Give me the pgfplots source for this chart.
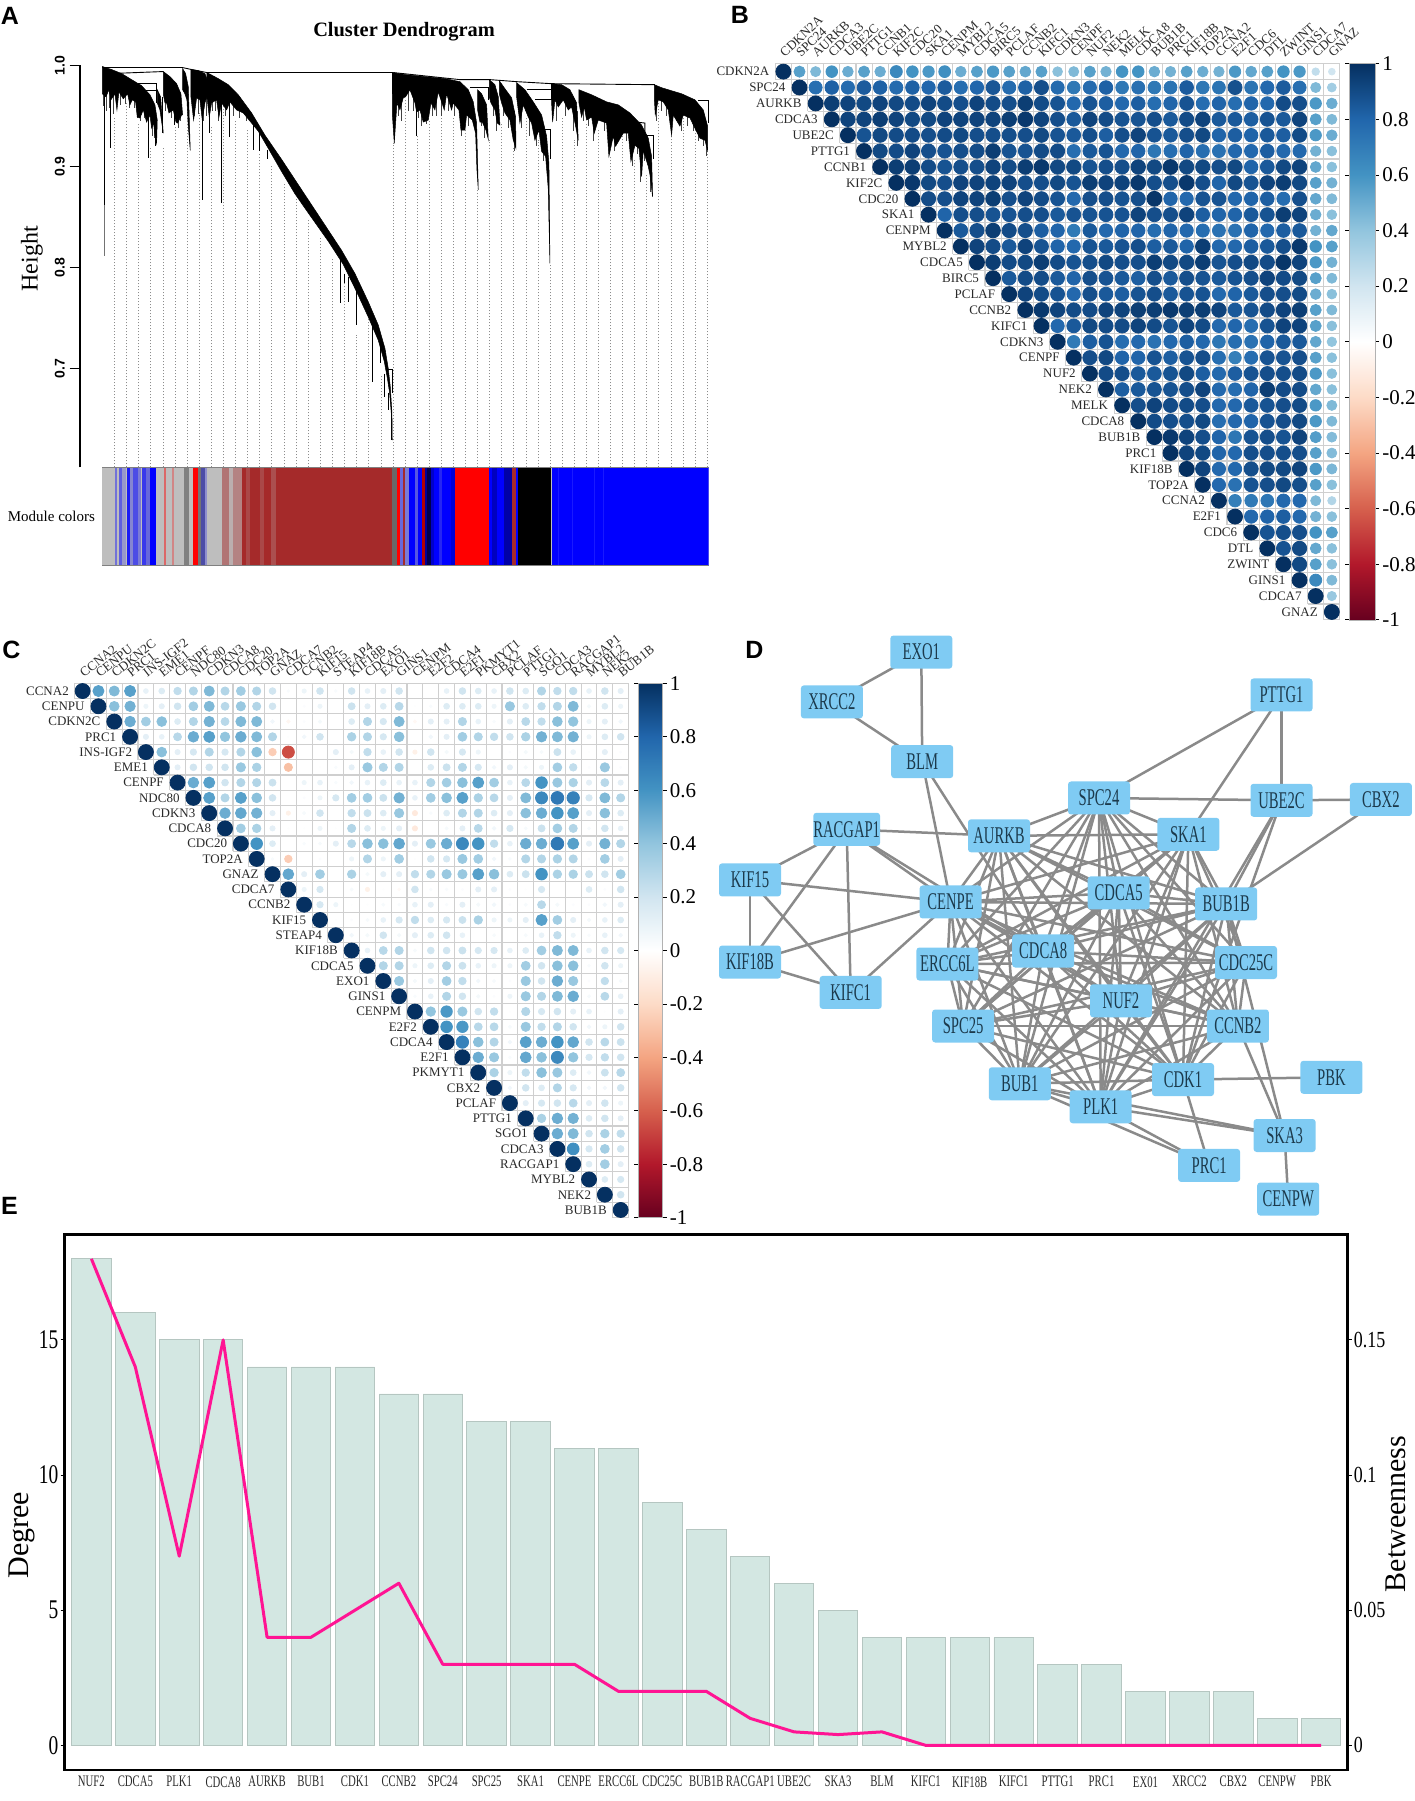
\documentclass[border=0pt]{standalone}
\usepackage{fontspec}
\setmainfont{Liberation Serif}
\newfontfamily\hv{Liberation Sans}
\usepackage{pgfplots}
\pgfplotsset{compat=1.18}
\newcommand\fs[1]{\fontsize{#1}{#1}\selectfont}
\definecolor{gr}{HTML}{BEBEBE}
\definecolor{br}{HTML}{A52A2A}
\definecolor{bl}{HTML}{0000FF}
\definecolor{rd}{HTML}{FF0000}
\definecolor{nodec}{HTML}{7FCBF3}
\definecolor{nodet}{HTML}{1C3A4C}
\definecolor{barf}{HTML}{D3E7E2}
\definecolor{bare}{HTML}{B5C6C1}
\definecolor{linep}{HTML}{FF1493}
\definecolor{gridc}{HTML}{CFCFCF}
\definecolor{labc}{HTML}{2A2A2A}
\definecolor{edgec}{HTML}{8A8A8A}
\pgfplotsset{colormap={rdbu}{rgb255=(103,0,31) rgb255=(178,24,43) rgb255=(214,96,77) rgb255=(244,165,130) rgb255=(253,219,199) rgb255=(255,255,255) rgb255=(209,229,240) rgb255=(146,197,222) rgb255=(67,147,195) rgb255=(33,102,172) rgb255=(5,48,97)}}
% --- dendrogram helpers
\newcommand\Poly[1]{\addplot[black,fill=black,line width=.25pt] coordinates {#1} --cycle;}
\newcommand\Sp[3]{\addplot[black,line width=.5pt] coordinates {(#1,#2)(#1,#3)};}
\newcommand\Fr[3]{\addplot[black!75,line width=.45pt] coordinates {(#1,#2)(#1,#3)};}
\newcommand\Ln[1]{\addplot[black,line width=.45pt] coordinates {#1};}
\newcommand\Bd[3]{\addplot[fill=#1,draw=none] coordinates {(#2,0)(#3.6,0)(#3.6,1)(#2,1)} --cycle;}
% --- correlation matrix helpers
\newcount\mcc
\newcommand\mrow[3]{%
 \global\mcc=#1\relax
 \xdef\mpts{(#1,#1)[1]}%
 \if\relax\detokenize{#3}\relax\else
 \foreach \v in {#3}{\global\advance\mcc by 1 \xdef\mpts{\mpts(\the\mcc,#1)[\v]}}%
 \fi
 \edef\tmp{\noexpand\addplot[dots] coordinates {\mpts};}\tmp
 \node[rowlab] at (axis cs:#1-.85,#1) {#2};
 \node[collab] at (axis cs:#1+.1,.15) {#2};
}
\newcommand\mgrid{%
 \addplot[gridl] coordinates {(.5,.5)(35.5,.5)};
 \addplot[gridl] coordinates {(35.5,.5)(35.5,35.5)};
 \pgfplotsforeachungrouped \i in {1,...,35}{%
  \pgfmathsetmacro\a{\i-.5}\pgfmathsetmacro\b{\i+.5}%
  \edef\tmp{\noexpand\addplot[gridl] coordinates {(\a,\b)(35.5,\b)};\noexpand\addplot[gridl] coordinates {(\a,.5)(\a,\b)};}\tmp
 }%
}
\pgfplotsset{
 dots/.style={only marks,scatter,mark=*,point meta=explicit,
  scatter/use mapped color={draw=mapped color,fill=mapped color},
  scatter/@pre marker code/.append code={\pgfmathsetmacro\pms{3.75*sqrt(abs(\pgfplotspointmetatransformed-500)/500)}\tikzset{mark size=\pms pt}}},
 gridl/.style={gridc,line width=.55pt},
 corr/.style={scale only axis,anchor=south west,hide axis,clip=false,y dir=reverse,
  xmin=.5,xmax=35.5,ymin=.5,ymax=35.5,colormap name=rdbu,point meta min=-1,point meta max=1,colorbar},
 cb/.style={at={(parent axis.north east)},anchor=north west,ytick={-1,-.8,...,1},
  yticklabel pos=right,tick align=outside,major tick length=2pt,tick style={black,line width=.4pt},
  axis line style={draw=gray!60,line width=.3pt},
  yticklabel style={font=\fs{10.5},inner sep=1.5pt,/pgf/number format/.cd,fixed,precision=1,assume math mode=true}},
}
\tikzset{rowlab/.style={anchor=east,inner sep=0pt,font=\fs{6.5},text=labc},
 collab/.style={anchor=south west,inner sep=0pt,rotate=43,font=\fs{6.5},text=labc},
 plet/.style={font=\hv\bfseries\fs{12.5}}}
% --- network helpers
\newcommand\Nd[3]{\expandafter\gdef\csname P#1\endcsname{#2,#3}}
\newcommand\Ed[2]{\edef\tmp{\noexpand\addplot[edgec,line width=1.25pt] coordinates {(\csname P#1\endcsname)(\csname P#2\endcsname)};}\tmp}
\newcommand\Bx[1]{\edef\tmp{\noexpand\node[fill=nodec,rounded corners=1.5pt,minimum width=31pt,minimum height=16.5pt,inner sep=0pt,text=nodet,font=\noexpand\fs{12}] at (axis cs:\csname P#1\endcsname) {\noexpand\scalebox{.61}[1]{#1}};}\tmp}
\newcommand\nn[1]{\scalebox{.67}[1]{#1}}
\newcommand\sxl[1]{\scalebox{.72}[1]{#1}}
\newcommand\sxr[1]{\scalebox{.78}[1]{#1}}
\Nd{EXO1}{921.3}{652.1}\Nd{XRCC2}{831.9}{701.9}\Nd{BLM}{922.2}{761.6}\Nd{PTTG1}{1281.5}{695}
\Nd{SPC24}{1099}{798}\Nd{UBE2C}{1281.5}{800.3}\Nd{CBX2}{1380.9}{799.5}\Nd{RACGAP1}{846.7}{829.3}
\Nd{AURKB}{999}{835.8}\Nd{SKA1}{1188.4}{834.3}\Nd{KIF15}{750}{879.9}\Nd{CENPE}{950.6}{902}
\Nd{CDCA5}{1118.7}{892.9}\Nd{BUB1B}{1226.2}{904}\Nd{KIF18B}{750}{962.1}\Nd{ERCC6L}{947.4}{964}
\Nd{CDCA8}{1043.2}{951}\Nd{CDC25C}{1246}{962.5}\Nd{KIFC1}{850.7}{992.4}\Nd{NUF2}{1121}{1000.8}
\Nd{SPC25}{963.1}{1026}\Nd{CCNB2}{1237.9}{1026}\Nd{BUB1}{1019.8}{1083.8}\Nd{CDK1}{1183}{1079.6}
\Nd{PBK}{1331.4}{1077.3}\Nd{PLK1}{1100.7}{1106.8}\Nd{SKA3}{1284.6}{1135.5}\Nd{PRC1}{1209.1}{1165.4}
\Nd{CENPW}{1288.2}{1199}
\begin{document}
\begin{tikzpicture}
\useasboundingbox (0,0) rectangle (707.5pt,900.5pt);
% ===================== A
\begin{axis}[at={(39.8pt,666.85pt)},anchor=south west,scale only axis,width=314.5pt,height=200.9pt,
 xmin=-46,xmax=1841,ymin=.6022,ymax=1,axis x line=none,axis y line=left,axis line style={-,line width=1pt},
 ytick={.7,.8,.9,1},yticklabels={0.7,0.8,0.9,1.0},tick align=outside,major tick length=5pt,tick style={black,line width=.8pt},
 yticklabel style={rotate=90,anchor=south,font=\hv\bfseries\fs{7},inner sep=2.2pt},clip=false]
\addplot[ycomb,color=black!45,dash pattern=on .7pt off .8pt,line width=.4pt,mark=none] coordinates {
 (58,.949)(94,.963)(130,.943)(167,.920)(204,.920)(240,.940)(277,.966)(313,.953)(349,.940)(385,.963)(421,.946)(458,.936)(494,.913)(530,.900)(567,.883)(603,.869)(640,.848)(676,.829)(712,.809)(749,.786)(785,.733)(821,.755)(858,.694)(894,.923)
 (930,.966)(966,.930)(1002,.946)(1039,.956)(1075,.949)(1111,.936)(1148,.877)(1184,.926)(1220,.943)(1256,.918)(1293,.949)(1329,.926)(1365,.804)(1401,.949)(1438,.926)(1474,.943)(1510,.936)(1546,.910)(1583,.936)(1619,.907)(1655,.893)(1691,.963)(1728,.931)(1764,.956)(1800,.946)(1837,.916)};
% fringe of short branches
\Fr{26}{.985}{.960}\Fr{36}{.985}{.955}\Fr{44}{.985}{.958}\Fr{56}{.98}{.952}\Fr{76}{.98}{.961}\Fr{92}{.98}{.962}\Fr{104}{.975}{.958}\Fr{118}{.97}{.958}\Fr{128}{.97}{.948}\Fr{138}{.965}{.945}\Fr{150}{.96}{.948}\Fr{172}{.95}{.930}\Fr{178}{.95}{.928}
\Fr{212}{.975}{.955}\Fr{230}{.975}{.948}\Fr{250}{.965}{.938}\Fr{256}{.96}{.945}
\Fr{300}{.98}{.950}\Fr{312}{.98}{.952}\Fr{326}{.98}{.945}\Fr{335}{.98}{.950}\Fr{352}{.97}{.955}\Fr{362}{.97}{.955}\Fr{372}{.97}{.945}\Fr{392}{.97}{.950}\Fr{415}{.965}{.950}\Fr{435}{.955}{.948}\Fr{455}{.955}{.945}
\Fr{900}{.975}{.940}\Fr{912}{.975}{.950}\Fr{920}{.975}{.945}\Fr{940}{.98}{.955}\Fr{955}{.98}{.955}\Fr{970}{.975}{.948}\Fr{980}{.975}{.940}\Fr{995}{.975}{.942}\Fr{1012}{.975}{.950}\Fr{1025}{.98}{.950}\Fr{1040}{.98}{.950}\Fr{1060}{.98}{.955}\Fr{1080}{.975}{.950}\Fr{1100}{.97}{.930}\Fr{1122}{.96}{.940}
\Fr{1160}{.965}{.940}\Fr{1170}{.955}{.928}\Fr{1195}{.975}{.950}\Fr{1205}{.965}{.935}\Fr{1225}{.97}{.950}\Fr{1240}{.965}{.938}\Fr{1258}{.955}{.915}
\Fr{1280}{.97}{.938}\Fr{1305}{.96}{.930}\Fr{1325}{.95}{.920}\Fr{1345}{.94}{.905}
\Fr{1385}{.975}{.945}\Fr{1412}{.97}{.950}\Fr{1436}{.965}{.935}\Fr{1447}{.955}{.920}
\Fr{1465}{.965}{.945}\Fr{1480}{.965}{.940}\Fr{1495}{.96}{.925}\Fr{1505}{.96}{.945}\Fr{1530}{.955}{.935}\Fr{1548}{.95}{.925}\Fr{1560}{.95}{.915}\Fr{1578}{.945}{.928}\Fr{1595}{.945}{.925}\Fr{1612}{.94}{.900}\Fr{1628}{.93}{.912}\Fr{1637}{.93}{.885}\Fr{1650}{.925}{.905}\Fr{1668}{.90}{.875}
\Fr{1685}{.97}{.945}\Fr{1700}{.97}{.955}\Fr{1715}{.965}{.950}\Fr{1745}{.965}{.945}\Fr{1760}{.965}{.935}\Fr{1778}{.96}{.940}\Fr{1795}{.955}{.935}\Fr{1810}{.95}{.925}\Fr{1825}{.945}{.920}\Fr{1836}{.93}{.910}
% left clusters
\Poly{(22,.999)(50,.996)(80,.992)(110,.986)(140,.980)(165,.971)(180,.961)(187,.946)(185,.923)(180,.931)(176,.943)(170,.938)(165,.951)(155,.944)(145,.956)(135,.948)(127,.949)(122,.964)(112,.966)(105,.961)(98,.972)(85,.967)(72,.974)(66,.956)(60,.972)(48,.966)(42,.976)(33,.969)(22,.972)}
\Poly{(187,.976)(197,.969)(205,.933)(195,.956)(187,.963)}
\Poly{(205,.994)(225,.989)(245,.982)(258,.972)(263,.951)(260,.951)(248,.943)(243,.944)(235,.956)(222,.953)(215,.963)(210,.963)(205,.972)}
\Poly{(263,.997)(272,.992)(280,.979)(286,.916)(280,.940)(276,.966)(270,.972)(263,.976)}
\Poly{(288,.996)(310,.995)(330,.992)(337,.986)(336,.969)(330,.963)(322,.946)(315,.966)(305,.968)(296,.946)(288,.969)}
% long arm
\Poly{(336,.993)(370,.987)(400,.981)(430,.971)(470,.953)(510,.931)(560,.907)(600,.887)(640,.867)(700,.837)(740,.817)(780,.794)(820,.766)(850,.743)(870,.720)(880,.700)(886,.682)(891,.656)(892,.629)(889,.656)(884,.676)(878,.689)(868,.707)(850,.728)(820,.751)(785,.776)(745,.803)(700,.826)(640,.854)(600,.873)(560,.895)(520,.918)(490,.935)(470,.943)(445,.953)(425,.956)(405,.964)(395,.956)(380,.963)(372,.949)(365,.966)(350,.963)(343,.949)(336,.969)}
% right clusters
\Poly{(892,.993)(930,.991)(990,.989)(1050,.987)(1095,.984)(1120,.976)(1135,.964)(1145,.943)(1150,.877)(1146,.897)(1142,.933)(1132,.946)(1115,.951)(1110,.936)(1098,.936)(1092,.956)(1075,.963)(1070,.956)(1055,.972)(1048,.956)(1030,.974)(1020,.956)(1008,.963)(1000,.946)(985,.944)(975,.956)(965,.954)(960,.963)(945,.976)(932,.969)(925,.968)(915,.956)(906,.963)(898,.923)(892,.953)}
\Poly{(1148,.976)(1160,.972)(1175,.961)(1180,.927)(1173,.936)(1162,.944)(1155,.944)(1148,.956)}
\Poly{(1183,.986)(1200,.981)(1210,.969)(1215,.941)(1207,.943)(1200,.956)(1188,.963)(1183,.969)}
\Poly{(1213,.985)(1230,.977)(1250,.968)(1262,.949)(1263,.918)(1255,.926)(1245,.946)(1230,.953)(1220,.963)(1213,.972)}
\Poly{(1265,.983)(1290,.976)(1315,.964)(1340,.951)(1355,.930)(1362,.903)(1365,.804)(1360,.878)(1352,.910)(1340,.915)(1332,.936)(1320,.926)(1310,.943)(1300,.949)(1285,.961)(1275,.943)(1265,.969)}
\Poly{(1370,.982)(1400,.981)(1425,.976)(1445,.963)(1450,.926)(1442,.940)(1430,.959)(1420,.956)(1405,.966)(1390,.959)(1380,.966)(1373,.944)(1370,.963)}
\Poly{(1452,.976)(1490,.971)(1535,.964)(1570,.961)(1605,.953)(1640,.941)(1660,.928)(1670,.910)(1673,.870)(1665,.892)(1660,.900)(1645,.916)(1640,.890)(1632,.918)(1620,.921)(1608,.905)(1600,.933)(1585,.933)(1562,.920)(1555,.930)(1542,.910)(1535,.943)(1510,.946)(1498,.933)(1490,.949)(1475,.946)(1468,.959)(1460,.949)(1452,.963)}
\Poly{(1678,.981)(1700,.978)(1730,.975)(1760,.972)(1800,.966)(1825,.956)(1838,.940)(1838,.916)(1830,.926)(1815,.928)(1800,.938)(1785,.948)(1765,.951)(1755,.940)(1735,.951)(1730,.931)(1720,.956)(1705,.964)(1690,.966)(1681,.951)(1678,.969)}
% spikes
\Sp{30}{.990}{.862}
\addplot[black!55,line width=.5pt] coordinates {(30,.862)(30,.811)};
\Sp{47}{.976}{.918}\Sp{161}{.963}{.908}\Sp{183}{.946}{.920}\Sp{204}{.969}{.933}\Sp{240}{.960}{.941}
\Sp{323}{.959}{.867}\Sp{345}{.966}{.933}\Sp{381}{.963}{.864}\Sp{404}{.966}{.929}\Sp{477}{.943}{.916}\Sp{493}{.936}{.915}\Sp{518}{.916}{.907}
\Sp{737}{.807}{.765}\Sp{750}{.794}{.785}\Sp{760}{.791}{.766}\Sp{785}{.778}{.743}\Sp{833}{.745}{.687}\Sp{857}{.722}{.705}\Sp{870}{.695}{.672}\Sp{882}{.676}{.659}\Sp{890}{.662}{.629}\Sp{965}{.956}{.930}
% merges
\Ln{(22,.998)(262,.998)(290,.996)(336,.993)}
\Ln{(45,.992)(205,.994)}
\Ln{(130,.982)(185,.982)(185,.963)}
\Ln{(150,.975)(185,.975)}
\addplot[black,line width=.7pt] coordinates {(336,.993)(620,.993)};
\Ln{(620,.993)(893,.993)(893,.972)}
\Ln{(880,.699)(892,.699)(892,.676)}
\Ln{(895,.993)(1095,.986)(1185,.986)(1265,.984)(1370,.982)(1680,.981)}
\Ln{(1125,.978)(1180,.978)(1180,.966)}
\Ln{(1295,.976)(1370,.976)}
\Ln{(1320,.966)(1370,.966)}
\Ln{(1370,.982)(1370,.966)}
\Ln{(1350,.937)(1367,.937)(1367,.907)}
\Ln{(1625,.944)(1650,.943)(1650,.920)}
\Ln{(1655,.931)(1675,.931)(1675,.907)}
\Ln{(1810,.965)(1840,.965)(1840,.943)}
\end{axis}
% strip
\begin{axis}[at={(51pt,617.5pt)},anchor=south west,scale only axis,width=303.3pt,height=49.35pt,
 xmin=18,xmax=1552,ymin=0,ymax=1,hide axis,clip=true]
\Bd{gr}{18}{1552}
\Bd{bl!40!gr}{52}{55}\Bd{bl!50!gr}{60}{67}\Bd{bl!20!gr}{68}{79}\Bd{bl!85!gr}{80}{89}\Bd{bl!30!gr}{90}{96}\Bd{bl!60!gr}{97}{109}\Bd{bl!35!gr}{110}{117}\Bd{bl!70!gr}{118}{129}\Bd{bl!45!gr}{130}{139}\Bd{bl}{140}{154}
\Bd{rd!45!gr}{175}{179}\Bd{rd!30!gr}{195}{199}\Bd{black!50}{225}{237}\Bd{rd}{248}{260}\Bd{black!55}{261}{267}\Bd{blue!50!black!70}{268}{277}\Bd{bl!25!gr}{278}{284}
\Bd{br!50!gr}{322}{339}\Bd{br!10!gr}{340}{349}\Bd{br!40!gr}{350}{371}\Bd{br}{372}{381}\Bd{br!80!gr}{382}{391}\Bd{br}{392}{417}\Bd{br!80!gr}{418}{427}\Bd{br}{428}{444}\Bd{br!75!gr}{445}{457}\Bd{br}{458}{751}
\Bd{black!45!gr}{752}{764}\Bd{rd}{765}{771}\Bd{bl!45!gr}{772}{779}\Bd{br}{780}{784}\Bd{bl!35!gr}{785}{794}\Bd{bl}{795}{809}\Bd{bl!55!gr}{810}{817}\Bd{bl}{818}{827}\Bd{rd!70!black}{828}{834}\Bd{bl!60!black}{835}{839}\Bd{bl!30!black}{840}{849}\Bd{bl!80!black}{850}{857}\Bd{bl}{858}{869}\Bd{bl!80!gr}{870}{877}\Bd{bl}{878}{899}\Bd{bl!85!black}{900}{909}
\Bd{rd}{910}{996}\Bd{bl}{997}{1004}\Bd{bl!75!black}{1005}{1017}\Bd{bl}{1018}{1034}\Bd{bl!65!black}{1035}{1054}\Bd{br}{1055}{1064}\Bd{bl}{1065}{1069}\Bd{black}{1070}{1154}\Bd{bl}{1155}{1552}
\Bd{bl!90!white}{1170}{1171}\Bd{bl!90!white}{1207}{1208}\Bd{bl!90!white}{1263}{1264}\Bd{bl!90!white}{1285}{1286}
\addplot[gray,line width=.5pt] coordinates {(18,1)(1552,1)};
\addplot[gray,line width=1.2pt] coordinates {(18,0)(1552,0)};
\end{axis}
\node[font=\bfseries\fs{10.2}] at (202pt,{(1801-31.4)*.5pt}) {Cluster Dendrogram};
\node[rotate=90,font=\fs{12}] at (15.9pt,{(1801-259)*.5pt}) {Height};
\node[font=\fs{7.5}] at (25.7pt,{(1801-516)*.5pt}) {Module colors};
\node[plet] at (5pt,{(1801-15.5)*.5pt}) {A};
\node[plet] at (370pt,{(1801-15)*.5pt}) {B};
\node[plet] at (5.75pt,{(1801-650)*.5pt}) {C};
\node[plet] at (377.25pt,{(1801-649.5)*.5pt}) {D};
\node[plet] at (4.75pt,{(1801-1206)*.5pt}) {E};
% ===================== B
\begin{axis}[corr,at={(387.65pt,590.55pt)},width=282.3pt,height=278.1pt,
 colorbar style={cb,xshift=-3.78pt,width=12.8pt,height=278.1pt}]
\mgrid
\mrow{1}{CDKN2A}{.55,.45,.60,.50,.55,.50,.65,.60,.58,.62,.50,.55,.58,.55,.52,.55,.42,.45,.55,.48,.60,.60,.50,.48,.55,.50,.48,.58,.52,.55,.60,.58,.25,.20}
\mrow{2}{SPC24}{.76,.82,.78,.84,.82,.78,.82,.80,.84,.77,.80,.86,.78,.82,.89,.78,.72,.78,.82,.72,.76,.72,.74,.84,.72,.74,.88,.74,.79,.84,.76,.45,.35}
\mrow{3}{AURKB}{.95,.93,.91,.93,.91,.90,.93,.90,.89,.93,.90,.89,.95,.90,.87,.79,.87,.83,.79,.83,.77,.81,.87,.77,.81,.77,.81,.79,.90,.89,.58,.50}
\mrow{4}{CDCA3}{.93,.93,.95,.93,.91,.91,.93,.93,.93,.93,.95,.97,.93,.89,.85,.93,.90,.87,.87,.89,.85,.90,.93,.85,.85,.83,.87,.85,.93,.55,.45}
\mrow{5}{UBE2C}{.87,.91,.90,.90,.89,.90,.91,.89,.89,.89,.89,.91,.87,.85,.89,.83,.89,.93,.87,.85,.89,.91,.81,.83,.81,.85,.83,.90,.58,.50}
\mrow{6}{PTTG1}{.91,.90,.93,.89,.87,.89,.90,.95,.87,.87,.90,.90,.77,.85,.87,.79,.81,.73,.77,.81,.77,.75,.79,.79,.83,.79,.79,.48,.42}
\mrow{7}{CCNB1}{.95,.95,.90,.87,.89,.89,.93,.90,.95,.97,.91,.91,.87,.89,.89,.93,.91,.97,.91,.91,.89,.91,.81,.85,.91,.93,.52,.42}
\mrow{8}{KIF2C}{.97,.91,.89,.93,.93,.93,.93,.89,.89,.91,.87,.95,.93,.93,.97,.89,.89,.97,.89,.81,.91,.87,.93,.95,.91,.55,.48}
\mrow{9}{CDC20}{.90,.89,.93,.93,.95,.89,.93,.90,.87,.79,.89,.89,.87,.89,.98,.81,.79,.87,.87,.79,.81,.83,.77,.89,.52,.45}
\mrow{10}{SKA1}{.81,.89,.89,.87,.87,.89,.89,.85,.87,.87,.87,.87,.93,.89,.89,.93,.83,.81,.81,.85,.87,.95,.93,.50,.42}
\mrow{11}{CENPM}{.85,.89,.95,.90,.89,.83,.81,.71,.85,.79,.81,.81,.77,.81,.79,.77,.75,.75,.81,.79,.83,.85,.48,.52}
\mrow{12}{MYBL2}{.93,.90,.85,.93,.87,.81,.79,.87,.85,.87,.89,.83,.85,.81,.95,.79,.79,.83,.85,.89,.97,.60,.55}
\mrow{13}{CDCA5}{.95,.90,.91,.95,.90,.87,.89,.91,.89,.89,.95,.91,.91,.95,.87,.89,.91,.90,.98,.93,.58,.48}
\mrow{14}{BIRC5}{.85,.90,.90,.85,.81,.89,.87,.85,.83,.89,.85,.89,.87,.85,.87,.89,.93,.90,.91,.55,.45}
\mrow{15}{PCLAF}{.93,.90,.87,.79,.89,.85,.83,.87,.89,.85,.87,.87,.79,.81,.85,.89,.89,.90,.50,.42}
\mrow{16}{CCNB2}{.97,.93,.90,.90,.93,.93,.95,.95,.97,.95,.95,.93,.85,.87,.90,.93,.95,.55,.45}
\mrow{17}{KIFC1}{.79,.85,.91,.90,.90,.93,.90,.87,.93,.90,.79,.80,.77,.87,.93,.93,.55,.42}
\mrow{18}{CDKN3}{.71,.83,.87,.77,.79,.75,.79,.83,.79,.73,.77,.75,.81,.85,.85,.52,.40}
\mrow{19}{CENPF}{.89,.91,.81,.81,.87,.83,.87,.89,.77,.69,.77,.87,.87,.89,.55,.42}
\mrow{20}{NUF2}{.90,.89,.85,.85,.87,.91,.83,.79,.83,.87,.89,.89,.90,.58,.42}
\mrow{21}{NEK2}{.83,.85,.87,.87,.89,.93,.79,.77,.81,.95,.90,.90,.52,.42}
\mrow{22}{MELK}{.89,.93,.90,.90,.89,.79,.79,.85,.87,.89,.90,.58,.45}
\mrow{23}{CDCA8}{.90,.89,.89,.91,.77,.79,.81,.87,.89,.91,.58,.45}
\mrow{24}{BUB1B}{.97,.93,.89,.81,.73,.87,.89,.87,.93,.56,.44}
\mrow{25}{PRC1}{.93,.91,.81,.79,.89,.89,.89,.89,.55,.44}
\mrow{26}{KIF18B}{.93,.79,.79,.89,.91,.91,.93,.58,.46}
\mrow{27}{TOP2A}{.79,.75,.87,.89,.91,.89,.55,.42}
\mrow{28}{CCNA2}{.69,.71,.73,.79,.79,.45,.30}
\mrow{29}{E2F1}{.79,.81,.83,.79,.48,.42}
\mrow{30}{CDC6}{.87,.89,.89,.60,.55}
\mrow{31}{DTL}{.87,.91,.52,.42}
\mrow{32}{ZWINT}{.91,.55,.42}
\mrow{33}{GINS1}{.65,.45}
\mrow{34}{CDCA7}{.38}
\mrow{35}{GNAZ}{}
\end{axis}
\tikzset{collab/.style={anchor=south west,inner sep=0pt,rotate=38,font=\fs{6.5},text=labc}}
% ===================== C
\begin{axis}[corr,at={(37.35pt,291.7pt)},width=276.95pt,height=267.1pt,
 colorbar style={cb,xshift=-3.73pt,width=12.15pt,height=267.1pt}]
\mgrid
\mrow{1}{CCNA2}{.55,.45,.55,.1,.15,.25,.3,.45,.3,.35,.3,.2,.03,.08,.2,.03,.2,.1,.12,.2,0,0,.1,.2,.15,.1,.2,.15,.3,.25,.25,.1,.2,.12}
\mrow{2}{CENPU}{.42,.48,.08,.12,.2,.35,.45,.28,.38,.3,.2,0,.02,.08,0,.22,.12,.15,.28,.01,.03,.15,.15,.15,.08,.38,.15,.25,.3,.45,.05,.15,.08}
\mrow{3}{CDKN2C}{.5,.35,.42,.15,.3,.48,.28,.45,.45,.06,-.05,.02,.05,0,.15,.3,.18,.45,-.04,.12,.12,.3,.1,.03,.12,.28,.25,.42,.4,.08,.12,.06}
\mrow{4}{PRC1}{.12,.1,.28,.5,.55,.4,.5,.45,.3,.01,.06,.2,0,.32,.3,.18,.42,0,.06,.12,.35,.3,.25,.2,.32,.48,.45,.48,.08,.15,.2}
\mrow{5}{INS-IGF2}{.42,.12,.18,.3,.18,.3,.42,-.25,-.65,0,0,.12,.05,.25,.1,.2,-.08,.2,.05,.18,.08,0,.02,.05,.04,.22,.1,.01,.12,.02}
\mrow{6}{EME1}{.12,.2,.2,.2,.38,.32,0,-.3,0,.01,.03,.12,.38,.3,.3,0,.15,.22,.3,.18,.06,.12,.05,.08,.35,.25,.02,.38,.02}
\mrow{7}{CENPF}{.5,.55,.2,.3,.3,.22,0,.08,.1,.03,.06,.1,.15,.1,.1,.3,.35,.42,.55,.35,.1,.28,.6,.38,.32,.12,.28,.12}
\mrow{8}{NDC80}{.55,.3,.55,.42,.2,0,.02,.08,.18,.35,.35,.22,.48,.1,.35,.42,.55,.32,.28,.12,.45,.65,.72,.68,.18,.45,.3}
\mrow{9}{CDKN3}{.5,.52,.48,.12,-.08,.04,.2,0,.25,.22,.15,.38,-.12,.03,.15,.3,.3,.15,.12,.42,.5,.6,.55,.12,.42,.15}
\mrow{10}{CDCA8}{.35,.32,.12,.01,.01,.08,.01,.3,.15,.08,.12,-.12,0,.04,.12,.28,.06,.18,.04,.22,.35,.3,.04,.2,.1}
\mrow{11}{CDC20}{.6,.15,0,.03,.04,.12,.28,.42,.42,.52,.12,.38,.5,.65,.6,.25,.1,.5,.5,.72,.55,.12,.48,.3}
\mrow{12}{TOP2A}{.03,-.25,0,.02,0,.08,.3,.08,.35,.01,.2,.18,.38,.35,.06,.03,.3,.3,.32,.3,.02,.35,.12}
\mrow{13}{GNAZ}{.52,.12,.35,0,.32,.05,.12,.12,.25,.3,.38,.38,.55,.42,.15,.22,.6,.32,.32,.22,.2,.35}
\mrow{14}{CDCA7}{.08,.18,0,.04,-.08,.01,-.03,.2,.03,.03,.02,.12,.12,.02,.01,.18,0,0,.15,.02,.2}
\mrow{15}{CCNB2}{.18,.08,.01,.01,.04,.03,.1,.12,.03,.12,.05,.06,.02,.04,.28,.05,.02,.02,.06,.12}
\mrow{16}{KIF15}{.01,.02,.04,.1,.18,.25,.15,.18,.22,.32,.08,.08,.12,.55,.35,.12,.05,.1,.15}
\mrow{17}{STEAP4}{.06,.05,.2,.05,.12,.15,.2,.1,0,.04,0,.04,.1,.25,.08,.03,.1,.06}
\mrow{18}{KIF18B}{.1,.28,.3,.04,.2,.2,.22,.18,.18,.1,.15,.35,.45,.45,.1,.2,.18}
\mrow{19}{CDCA5}{.3,.3,.08,.15,.3,.22,.1,.08,.08,.35,.2,.42,.42,.03,.2,.08}
\mrow{20}{EXO1}{.38,.05,.12,.35,.25,.06,.04,.02,.38,.2,.5,.38,.02,.25,.04}
\mrow{21}{GINS1}{.03,.1,.3,.2,.05,.02,.08,.38,.3,.45,.5,.04,.28,.1}
\mrow{22}{CENPM}{.4,.58,.38,.2,.25,.01,.3,.18,.2,.12,.1,.01,.12}
\mrow{23}{E2F2}{.6,.58,.28,.28,.04,.38,.25,.3,.2,.06,.08,.2}
\mrow{24}{CDCA4}{.68,.42,.3,.06,.55,.5,.6,.52,.2,.28,.22}
\mrow{25}{E2F1}{.5,.38,.03,.52,.42,.65,.4,.18,.25,.2}
\mrow{26}{PKMYT1}{.32,.08,.25,.42,.38,.15,.06,.22,.28}
\mrow{27}{CBX2}{.06,.2,.15,.3,.18,.06,.06,.2}
\mrow{28}{PCLAF}{.12,.18,.2,.28,.12,.2,.08}
\mrow{29}{PTTG1}{.32,.5,.48,.15,.2,.12}
\mrow{30}{SGO1}{.5,.45,.2,.32,.25}
\mrow{31}{CDCA3}{.62,.18,.35,.2}
\mrow{32}{RACGAP1}{.15,.35,.12}
\mrow{33}{MYBL2}{.15,.18}
\mrow{34}{NEK2}{.2}
\mrow{35}{BUB1B}{}
\end{axis}
% ===================== D
\begin{axis}[at={(350pt,290.5pt)},anchor=south west,scale only axis,width=357.5pt,height=300pt,
 xmin=700,xmax=1415,ymin=620,ymax=1220,y dir=reverse,hide axis,clip=false]
\foreach \a/\b in {EXO1/XRCC2,EXO1/BLM,XRCC2/BLM,BLM/CENPE,BLM/CDCA8,PTTG1/SPC24,PTTG1/UBE2C,PTTG1/SKA1,UBE2C/CBX2,UBE2C/SPC24,UBE2C/BUB1B,UBE2C/CDK1,UBE2C/PLK1,CBX2/BUB1B,RACGAP1/AURKB,RACGAP1/KIF15,RACGAP1/KIF18B,RACGAP1/KIFC1,RACGAP1/CENPE,RACGAP1/CDCA8,KIF15/KIF18B,KIF15/KIFC1,KIF15/CENPE,KIF18B/KIFC1,KIF18B/CENPE,KIFC1/CENPE,SKA3/PLK1,SKA3/BUB1,SKA3/CENPW,SKA3/CCNB2,SKA3/BUB1B,PBK/CDK1,PRC1/PLK1,PRC1/CDK1,PRC1/BUB1}{\Ed{\a}{\b}}
\foreach \a [count=\i] in {AURKB,SPC24,SKA1,CDCA5,BUB1B,CENPE,ERCC6L,CDCA8,CDC25C,NUF2,SPC25,CCNB2,BUB1,CDK1,PLK1}{
 \foreach \b [count=\j] in {AURKB,SPC24,SKA1,CDCA5,BUB1B,CENPE,ERCC6L,CDCA8,CDC25C,NUF2,SPC25,CCNB2,BUB1,CDK1,PLK1}{
  \ifnum\i<\j \Ed{\a}{\b}\fi}}
\Bx{EXO1}\Bx{XRCC2}\Bx{BLM}\Bx{PTTG1}\Bx{SPC24}\Bx{UBE2C}\Bx{CBX2}\Bx{RACGAP1}\Bx{AURKB}\Bx{SKA1}\Bx{KIF15}\Bx{CENPE}\Bx{CDCA5}\Bx{BUB1B}\Bx{KIF18B}\Bx{ERCC6L}\Bx{CDCA8}\Bx{CDC25C}\Bx{KIFC1}\Bx{NUF2}\Bx{SPC25}\Bx{CCNB2}\Bx{BUB1}\Bx{CDK1}\Bx{PBK}\Bx{PLK1}\Bx{SKA3}\Bx{PRC1}\Bx{CENPW}
\end{axis}
% ===================== E
\begin{axis}[at={(32.35pt,15.5pt)},anchor=south west,scale only axis,width=641.4pt,height=267.75pt,
 xmin=-.608,xmax=28.6,ymin=-.91,ymax=18.9,ybar,bar width=19.75pt,bar shift=0pt,
 axis line style={line width=1.2pt},ytick pos=left,xtick pos=bottom,tick align=outside,
 xtick={0,...,28},x tick style={draw=none},major tick length=2pt,y tick style={black,line width=.5pt},
 ytick={0,5,10,15},yticklabels={\sxl{0},\sxl{5},\sxl{10},\sxl{15}},yticklabel style={font=\fs{13.5},inner sep=1pt},
 xticklabels={\nn{NUF2},\nn{CDCA5},\nn{PLK1},\nn{CDCA8},\nn{AURKB},\nn{BUB1},\nn{CDK1},\nn{CCNB2},\nn{SPC24},\nn{SPC25},\nn{SKA1},\nn{CENPE},\nn{ERCC6L},\nn{CDC25C},\nn{BUB1B},\nn{RACGAP1},\nn{UBE2C},\nn{SKA3},\nn{BLM},\nn{KIFC1},\nn{KIF18B},\nn{KIFC1},\nn{PTTG1},\nn{PRC1},\nn{EX01},\nn{XRCC2},\nn{CBX2},\nn{CENPW},\nn{PBK}},
 xticklabel style={font=\fs{8},inner sep=1pt,text=labc}]
\addplot[fill=barf,draw=bare,line width=.45pt] coordinates {(0,18)(1,16)(2,15)(3,15)(4,14)(5,14)(6,14)(7,13)(8,13)(9,12)(10,12)(11,11)(12,11)(13,9)(14,8)(15,7)(16,6)(17,5)(18,4)(19,4)(20,4)(21,4)(22,3)(23,3)(24,2)(25,2)(26,2)(27,1)(28,1)};
\end{axis}
\begin{axis}[at={(32.35pt,15.5pt)},anchor=south west,scale only axis,width=641.4pt,height=267.75pt,
 xmin=-.608,xmax=28.6,ymin=-.0091,ymax=.189,axis x line=none,axis y line*=right,
 axis line style={-,line width=1.2pt},tick align=outside,major tick length=2pt,tick style={black,line width=.5pt},
 ytick={0,.05,.1,.15},yticklabels={\sxr{0},\sxr{0.05},\sxr{0.1},\sxr{0.15}},yticklabel style={font=\fs{11.5},inner sep=1pt}]
\addplot[linep,line width=1.5pt,line join=round,mark=none] coordinates {(0,.18)(1,.14)(2,.07)(3,.15)(4,.04)(5,.04)(6,.05)(7,.06)(8,.03)(9,.03)(10,.03)(11,.03)(12,.02)(13,.02)(14,.02)(15,.01)(16,.005)(17,.004)(18,.005)(19,0)(20,0)(21,0)(22,0)(23,0)(24,0)(25,0)(26,0)(27,0)(28,0)};
\end{axis}
\node[rotate=90,font=\fs{15}] at (11pt,{(1801-1535)*.5pt}) {Degree};
\node[rotate=90,font=\fs{15}] at (697.7pt,{(1801-1514)*.5pt}) {Betweenness};
\end{tikzpicture}
\end{document}
